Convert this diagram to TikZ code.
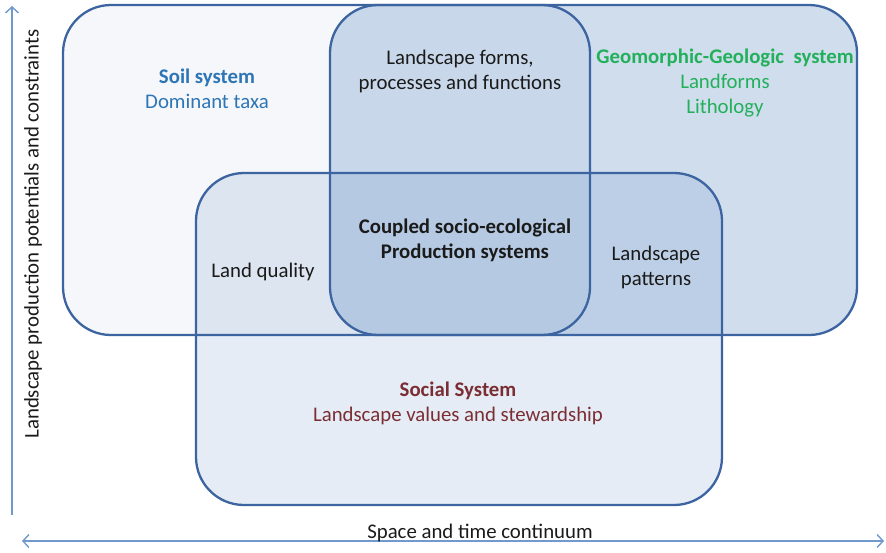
\documentclass[tikz,border=0pt]{standalone}
\usepackage{fontspec}
\setmainfont{Carlito}
\usetikzlibrary{arrows.meta}
\definecolor{rimblue}{HTML}{3C64A0}
\definecolor{axisblue}{HTML}{7099CE}
\definecolor{fillblue}{HTML}{4F81BD}
\definecolor{soilfill}{HTML}{F5F7FA}
\definecolor{soiltext}{HTML}{2E75B6}
\definecolor{geotext}{HTML}{22B05A}
\definecolor{socialtext}{HTML}{7A2E33}
\definecolor{plaintext}{HTML}{1A1A1A}
\tikzset{
  sysbox/.style={rounded corners=48pt, line width=2.3pt, draw=rimblue},
  lbl/.style={align=center, font=\fontsize{20.8}{25}\selectfont, text=plaintext, inner sep=0pt},
  axisline/.style={axisblue, line width=1.4pt},
  barb/.tip={Straight Barb[length=6pt,width=13pt,line width=1.4pt]},
}

\begin{document}
\begin{tikzpicture}[x=1pt,y=-1pt]
       \useasboundingbox (0,0) rectangle (886,552);

       % fills first, so every rim stays visible
       \fill[soilfill, rounded corners=48pt] (63,5) rectangle (590,335);
       \fill[fillblue, fill opacity=0.27, rounded corners=48pt] (330,5) rectangle (857,335);
       \fill[fillblue, fill opacity=0.15, rounded corners=48pt] (196,173) rectangle (722,505);

       \draw[sysbox] (63,5) rectangle (590,335);
       \draw[sysbox] (330,5) rectangle (857,335);
       \draw[sysbox] (196,173) rectangle (722,505);

       % axes
       \coordinate (yaxisfoot) at (12,515);
       \coordinate (yaxistop) at (12,6);
       \coordinate (xaxisleft) at (22,541);
       \coordinate (xaxisright) at (884,541);
       \draw[axisline, -barb] (yaxisfoot) -- (yaxistop);
       \draw[axisline, barb-barb] (xaxisleft) -- (xaxisright);

       \node[lbl, rotate=90] (potentials) at (33,234) {Landscape production potentials and constraints};
       \node[lbl] (continuum) at (480,533) {Space and time continuum};

       % system labels
       \node[lbl, text=soiltext] (soil) at (207,89) {\textbf{Soil system}\\Dominant taxa};
       \node[lbl] (forms) at (460,71) {Landscape forms,\\processes and functions};
       \node[lbl, text=geotext] (geo) at (725,83) {\textbf{Geomorphic-Geologic~ system}\\Landforms\\Lithology};
       \node[lbl] (coupled) at (465,240) {\textbf{Coupled socio-ecological}\\\textbf{Production systems}};
       \node[lbl] (quality) at (263,272) {Land quality};
       \node[lbl] (patterns) at (656,267) {Landscape\\patterns};
       \node[lbl, text=socialtext] (social) at (458,403) {\textbf{Social System}\\Landscape values and stewardship};
\end{tikzpicture}
\end{document}
